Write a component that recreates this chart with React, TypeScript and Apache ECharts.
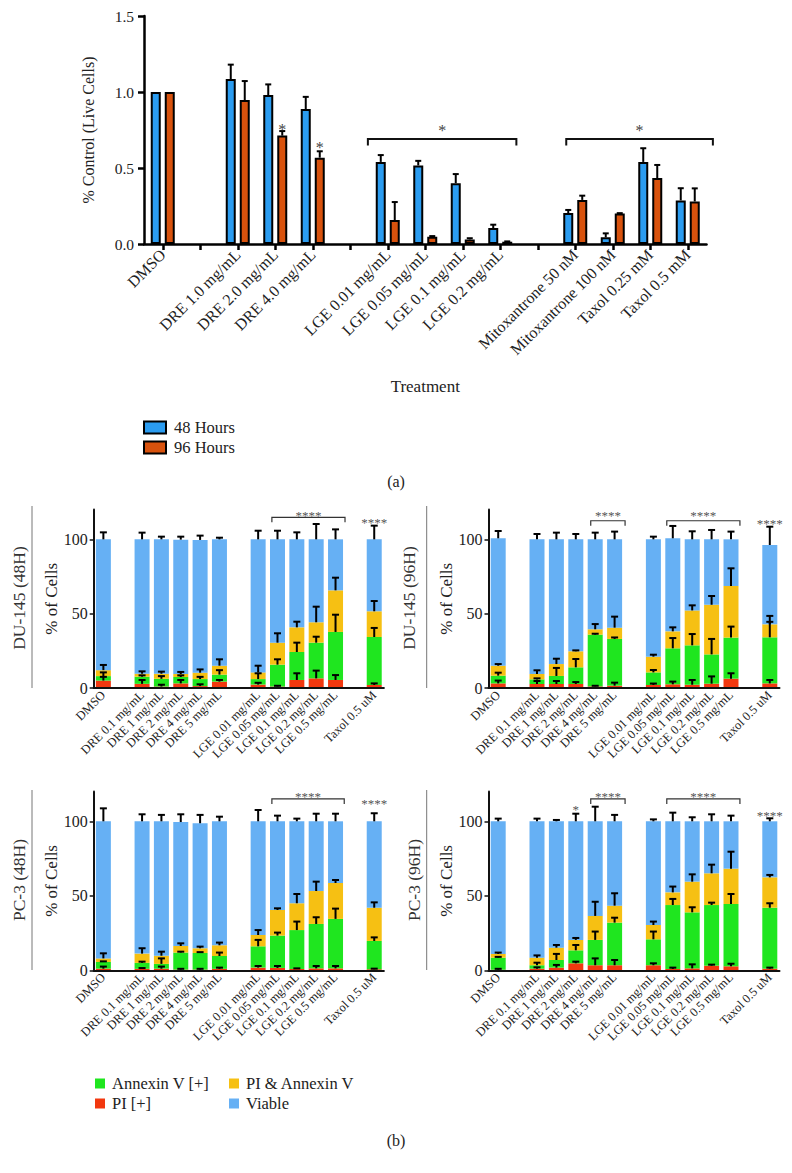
import React, { useEffect, useRef } from 'react';
import * as echarts from 'echarts';

const SERIF = 'Liberation Serif';

// ---------------- Panel (a) ----------------
const CATS_A = ['DMSO', '', 'DRE 1.0 mg/mL', 'DRE 2.0 mg/mL', 'DRE 4.0 mg/mL', '', 'LGE 0.01 mg/mL', 'LGE 0.05 mg/mL', 'LGE 0.1 mg/mL', 'LGE 0.2 mg/mL', '', 'Mitoxantrone 50 nM', 'Mitoxantrone 100 nM', 'Taxol 0.25 mM', 'Taxol 0.5 mM'];
const H48 = [1.0, null, 1.085, 0.98, 0.888, null, 0.54, 0.517, 0.4, 0.105, null, 0.204, 0.044, 0.54, 0.287];
const H48_ERR = [0, null, 0.095, 0.07, 0.08, null, 0.045, 0.03, 0.06, 0.022, null, 0.02, 0.026, 0.09, 0.08];
const H96 = [1.0, null, 0.947, 0.713, 0.568, null, 0.158, 0.048, 0.03, 0.015, null, 0.29, 0.2, 0.434, 0.28];
const H96_ERR = [0, null, 0.125, 0.03, 0.042, null, 0.118, 0.004, 0.008, 0.002, null, 0.028, 0.003, 0.086, 0.086];
// [from category, to category, line y, star y]
const A_BRACKETS = [[5.47, 9.43, 0.69, 0.77], [10.76, 14.67, 0.69, 0.77]];
// [category, series (0 = 48 h, 1 = 96 h), y]
const A_STARS = [[3, 1, 0.778], [4, 1, 0.662]];

// ---------------- Panel (b) ----------------
const CATS_B = ['DMSO', '', 'DRE 0.1 mg/mL', 'DRE 1 mg/mL', 'DRE 2 mg/mL', 'DRE 4 mg/mL', 'DRE 5 mg/mL', '', 'LGE 0.01 mg/mL', 'LGE 0.05 mg/mL', 'LGE 0.1 mg/mL', 'LGE 0.2 mg/mL', 'LGE 0.5 mg/mL', '', 'Taxol 0.5 uM'];
const B_TICKS = [0, 50, 100];
const LAYER_NAMES = ['PI [+]', 'Annexin V [+]', 'PI & Annexin V', 'Viable'];

// DU-145 (48H)
const DU48_PI = [5, null, 2.8, 1, 3.1, 1.3, 4.3, null, 2.3, 1, 5.4, 6.5, 5.4, null, 2];
const DU48_ANX = [3, null, 4.8, 5.2, 4.3, 4.7, 4.7, null, 3.7, 14.7, 18.8, 24, 32.3, null, 32.3];
const DU48_BOTH = [4, null, 2, 3.4, 2, 4.3, 6, null, 4.5, 14.8, 16.6, 13.7, 28, null, 17.3];
const DU48_VIA = [88, null, 90.4, 90.4, 90.4, 89.3, 85, null, 89.5, 69.5, 59.2, 55.8, 34.3, null, 48.4];
const DU48_PI_E = [2.5, null, 2.6, 1.2, 2.3, 1.2, 1.1, null, 1.2, 0.5, 4.5, 5.2, 3.3, null, 1.1];
const DU48_ANX_E = [2.5, null, 0.9, 1.8, 1.1, 1.5, 3, null, 3.9, 3.6, 6.3, 4, 11.6, null, 6.1];
const DU48_BOTH_E = [3.5, null, 1.6, 1.4, 1.4, 2.2, 4.3, null, 4.5, 6.3, 3.8, 10.5, 8.5, null, 6.9];
const DU48_VIA_E = [4.7, null, 4.5, 1.8, 2, 2.9, 1.1, null, 5.8, 5.8, 4.7, 10.3, 6.7, null, 9.2];
const DU48_BRACKETS = [[8.71, 12.49, 114.8, 118.4]];
const DU48_STARS = [[14, 113.6, '****']];

// DU-145 (96H)
const DU96_PI = [3.1, null, 2.7, 2.7, 2.7, 1.1, 1.6, null, 2, 2.5, 2.2, 2.9, 6.3, null, 3.1];
const DU96_ANX = [5.2, null, 3.1, 5.4, 11.2, 34.8, 31.4, null, 8.5, 24.2, 26.5, 19.7, 27.6, null, 31];
const DU96_BOTH = [6.7, null, 3.6, 8, 10.8, 3.6, 7.6, null, 10.6, 11.4, 23.5, 33.4, 34.7, null, 8.7];
const DU96_VIA = [85.7, null, 90.6, 83.9, 75.3, 60.5, 59.4, null, 78.9, 62.6, 47.8, 44, 31.4, null, 53.4];
const DU96_PI_E = [1.9, null, 2, 2, 1.3, 0.4, 2, null, 1, 1.8, 3.2, 4.9, 3.6, null, 2.3];
const DU96_ANX_E = [2, null, 0.7, 5.4, 5.6, 0.6, 1, null, 1.6, 6.9, 7.6, 10.4, 7.4, null, 10.4];
const DU96_BOTH_E = [1.1, null, 2.5, 3.6, 0.6, 3.5, 7.4, null, 1.3, 2.7, 3.4, 5.9, 11.9, null, 5.7];
const DU96_VIA_E = [4.9, null, 3.6, 4.5, 3.6, 4.5, 5.2, null, 1.8, 8.3, 5.4, 6.3, 5.2, null, 12.3];
const DU96_BRACKETS = [[4.77, 6.54, 112.5, 118.2], [8.69, 12.46, 112.5, 118.2]];
const DU96_STARS = [[14, 113, '****']];

// PC-3 (48H)
const PC48_PI = [1.1, null, 1, 1.1, 0.5, 0.5, 1, null, 1.8, 1.6, 0.9, 1.3, 1.3, null, 0.7];
const PC48_ANX = [4.5, null, 4, 3.2, 11.4, 11.1, 8.6, null, 14.3, 21.7, 26.1, 29.8, 33.2, null, 19];
const PC48_BOTH = [2.4, null, 6.2, 5.5, 4.4, 3.2, 7.2, null, 7.6, 17.2, 18, 22.1, 24.1, null, 22.3];
const PC48_VIA = [92, null, 88.8, 90.2, 83.2, 83.9, 83.2, null, 76.3, 59.5, 55, 46.8, 41.4, null, 58];
const PC48_PI_E = [1.4, null, 0.5, 1.4, 0.5, 0.5, 0.8, null, 1.1, 1.3, 0.4, 1.6, 1.6, null, 0.4];
const PC48_ANX_E = [0.4, null, 0.8, 3.7, 0.6, 0.6, 2.3, null, 4.3, 2, 5.7, 4.5, 6.9, null, 2.4];
const PC48_BOTH_E = [3.4, null, 3.6, 2.7, 1.8, 1.1, 1.8, null, 3.3, 1.1, 6.2, 6.3, 2, null, 3.6];
const PC48_VIA_E = [8.7, null, 4.7, 4.3, 5.2, 5.6, 3.1, null, 7.6, 3.8, 1.8, 5.1, 5.1, null, 5.4];
const PC48_BRACKETS = [[8.71, 12.45, 115, 118.5]];
const PC48_STARS = [[14, 113.8, '****']];

// PC-3 (96H)
const PC96_PI = [0.4, null, 1.1, 1.8, 4.7, 3.4, 3.4, null, 3.4, 0.9, 1.3, 3.1, 2.7, null, 1.1];
const PC96_ANX = [8.1, null, 2.3, 5.1, 8.7, 17, 28.6, null, 17.4, 42.9, 37.6, 40.7, 41.8, null, 40.9];
const PC96_BOTH = [2.5, null, 5.1, 8.3, 7, 16.1, 11.4, null, 9.6, 8.5, 20.6, 21.3, 23.7, null, 20.4];
const PC96_VIA = [89, null, 91.5, 84.8, 79.6, 63.5, 56.6, null, 69.6, 47.7, 40.5, 34.9, 31.8, null, 37.6];
const PC96_PI_E = [0.6, null, 0.9, 1.8, 1.1, 4.6, 3.5, null, 1.3, 0.9, 2.7, 0.7, 1.7, null, 0.7];
const PC96_ANX_E = [0.5, null, 1.7, 4.1, 3.6, 5.6, 3.3, null, 5.2, 4.1, 3.4, 1.6, 6.7, null, 3];
const PC96_BOTH_E = [0.9, null, 1.5, 1.8, 1.3, 9.5, 8.3, null, 2.3, 3.9, 4.9, 5.8, 11.4, null, 1.6];
const PC96_VIA_E = [1.8, null, 1.8, 0.9, 5.1, 9.8, 4.3, null, 1.3, 5.8, 2.7, 4.7, 3.8, null, 2];
const PC96_BRACKETS = [[4.77, 6.54, 115, 118.5], [8.69, 12.46, 115, 118.5]];
const PC96_STARS = [[14, 106.4, '****'], [4, 109.8, '*']];

// ---------------- Layout & style ----------------
const COLORS_A = ['#2b9cf0', '#d8520d'];
const LAYER_COLORS = ['#f2380f', '#1fe61f', '#f6c013', '#66b0f4'];
const GRID_A = { left: 144, top: 16, width: 562.5, height: 228 };
const GRIDS_B = [
  { left: 93.7, top: 509.6, width: 290.2, height: 178.4 },
  { left: 488.5, top: 509.6, width: 291, height: 178.4 },
  { left: 93.7, top: 791.5, width: 290.2, height: 178.8 },
  { left: 488.5, top: 791.5, width: 291, height: 178.8 },
];
const PANELS = [
  { label: 'DU-145 (48H)', lx: 19, ly: 598, line: [32, 506, 688], layers: [DU48_PI, DU48_ANX, DU48_BOTH, DU48_VIA], errs: [DU48_PI_E, DU48_ANX_E, DU48_BOTH_E, DU48_VIA_E], brackets: DU48_BRACKETS, stars: DU48_STARS },
  { label: 'DU-145 (96H)', lx: 409, ly: 598, line: [426.7, 506, 688], layers: [DU96_PI, DU96_ANX, DU96_BOTH, DU96_VIA], errs: [DU96_PI_E, DU96_ANX_E, DU96_BOTH_E, DU96_VIA_E], brackets: DU96_BRACKETS, stars: DU96_STARS },
  { label: 'PC-3 (48H)', lx: 19, ly: 880, line: [32, 790, 970], layers: [PC48_PI, PC48_ANX, PC48_BOTH, PC48_VIA], errs: [PC48_PI_E, PC48_ANX_E, PC48_BOTH_E, PC48_VIA_E], brackets: PC48_BRACKETS, stars: PC48_STARS },
  { label: 'PC-3 (96H)', lx: 414, ly: 880, line: [426.7, 790, 970], layers: [PC96_PI, PC96_ANX, PC96_BOTH, PC96_VIA], errs: [PC96_PI_E, PC96_ANX_E, PC96_BOTH_E, PC96_VIA_E], brackets: PC96_BRACKETS, stars: PC96_STARS },
];

const BAR_A_W = 10;
const BAR_A_GAP = 4;

function fracX(api: any, v: number) {
  const i = Math.floor(v);
  const band = api.size([1, 0])[0];
  return api.coord([i, 0])[0] + (v - i) * band;
}

function errorSeries(axis: number, data: number[][], offset: number, cap: number, lw: number) {
  return {
    type: 'custom',
    xAxisIndex: axis,
    yAxisIndex: axis,
    z: 6,
    silent: true,
    data,
    encode: { x: 0, y: [1, 2] },
    renderItem: (params: any, api: any) => {
      const c = api.value(0);
      const base = api.coord([c, api.value(1)]);
      const tip = api.coord([c, api.value(2)]);
      const x = base[0] + offset;
      const st = { stroke: '#000', lineWidth: lw };
      return {
        type: 'group',
        children: [
          { type: 'line', shape: { x1: x, y1: base[1], x2: x, y2: tip[1] }, style: st },
          { type: 'line', shape: { x1: x - cap / 2, y1: tip[1], x2: x + cap / 2, y2: tip[1] }, style: st },
        ],
      };
    },
  };
}

function bracketSeries(axis: number, brackets: number[][], label: string, opt: any) {
  return {
    type: 'custom',
    xAxisIndex: axis,
    yAxisIndex: axis,
    z: 6,
    silent: true,
    data: brackets.map((b) => [Math.floor(b[0]), b[2]]),
    encode: { x: 0, y: 1 },
    renderItem: (params: any, api: any) => {
      const b = brackets[params.dataIndex];
      const x1 = fracX(api, b[0]);
      const x2 = fracX(api, b[1]);
      const y = api.coord([0, b[2]])[1];
      const ys = api.coord([0, b[3]])[1];
      return {
        type: 'group',
        children: [
          {
            type: 'polyline',
            shape: { points: [[x1, y + opt.drop], [x1, y], [x2, y], [x2, y + opt.drop]] },
            style: { stroke: opt.color, lineWidth: opt.lw, fill: null },
          },
          {
            type: 'text',
            x: (x1 + x2) / 2,
            y: ys + opt.font * 0.25,
            style: { text: label, fontSize: opt.font, fontFamily: SERIF, fill: opt.starColor, align: 'center', verticalAlign: 'middle' },
          },
        ],
      };
    },
  };
}

function starSeries(axis: number, stars: any[], getOffset: (s: any) => number, getY: (s: any) => number, getText: (s: any) => string, font: number, color: string) {
  return {
    type: 'custom',
    xAxisIndex: axis,
    yAxisIndex: axis,
    z: 6,
    silent: true,
    data: stars.map((s) => [s[0], getY(s)]),
    encode: { x: 0, y: 1 },
    renderItem: (params: any, api: any) => {
      const s = stars[params.dataIndex];
      const p = api.coord([api.value(0), api.value(1)]);
      return {
        type: 'text',
        x: p[0] + getOffset(s),
        y: p[1] + font * 0.25,
        style: { text: getText(s), fontSize: font, fontFamily: SERIF, fill: color, align: 'center', verticalAlign: 'middle' },
      };
    },
  };
}

function buildOption() {
  const grids: any[] = [GRID_A, ...GRIDS_B].map((g) => ({ ...g, outerBoundsMode: 'none', containLabel: false }));
  const xAxes: any[] = [];
  const yAxes: any[] = [];
  const series: any[] = [];

  // Panel (a)
  xAxes.push({
    type: 'category',
    gridIndex: 0,
    data: CATS_A,
    z: 10,
    axisLine: { lineStyle: { color: '#000', width: 2.5 } },
    axisTick: { show: true, alignWithLabel: true, interval: 0, length: 6, lineStyle: { color: '#000', width: 2.5 } },
    axisLabel: { interval: 0, rotate: 45, fontSize: 16, fontFamily: SERIF, color: '#222', margin: 8 },
    name: 'Treatment',
    nameLocation: 'middle',
    nameGap: 134,
    nameTextStyle: { fontSize: 17, fontFamily: SERIF, color: '#222' },
  });
  yAxes.push({
    type: 'value',
    gridIndex: 0,
    min: 0,
    max: 1.5,
    interval: 0.5,
    axisLine: { show: true, lineStyle: { color: '#000', width: 2.5 } },
    axisTick: { show: true, length: 6, lineStyle: { color: '#000', width: 2.5 } },
    splitLine: { show: false },
    axisLabel: { formatter: (v: number) => v.toFixed(1), fontSize: 15.5, fontFamily: SERIF, color: '#222', margin: 10 },
    name: '% Control (Live Cells)',
    nameLocation: 'middle',
    nameGap: 48,
    nameTextStyle: { fontSize: 16, fontFamily: SERIF, color: '#222' },
  });
  const aVals = [H48, H96];
  const aErrs = [H48_ERR, H96_ERR];
  const aNames = ['48 Hours', '96 Hours'];
  const half = (BAR_A_W + BAR_A_GAP) / 2;
  aVals.forEach((vals, k) => {
    series.push({
      name: aNames[k],
      type: 'bar',
      xAxisIndex: 0,
      yAxisIndex: 0,
      data: vals,
      barWidth: BAR_A_W,
      barGap: (BAR_A_GAP / BAR_A_W) * 100 + '%',
      itemStyle: { color: COLORS_A[k], borderColor: '#000', borderWidth: 2 },
      z: 2,
    });
  });
  aVals.forEach((vals, k) => {
    const data: number[][] = [];
    vals.forEach((v, j) => {
      const e = aErrs[k][j];
      if (v != null && e != null && e > 0) data.push([j, v, v + e]);
    });
    series.push(errorSeries(0, data, k === 0 ? -half : half, 6, 2));
  });
  series.push(bracketSeries(0, A_BRACKETS, '*', { drop: 6.5, lw: 2, color: '#111', font: 16, starColor: '#444' }));
  series.push(starSeries(0, A_STARS, (s) => (s[1] === 0 ? -half : half), (s) => s[2], () => '*', 16, '#444'));

  // Panel (b)
  PANELS.forEach((p, i) => {
    const ai = i + 1;
    xAxes.push({
      type: 'category',
      gridIndex: ai,
      data: CATS_B,
      z: 10,
      axisLine: { lineStyle: { color: '#111', width: 2 } },
      axisTick: { show: false },
      axisLabel: { interval: 0, rotate: 45, fontSize: 12.5, fontFamily: SERIF, color: '#222', margin: 5 },
    });
    yAxes.push({
      type: 'value',
      gridIndex: ai,
      min: 0,
      max: 120,
      interval: 50,
      axisLine: { show: true, lineStyle: { color: '#111', width: 2 } },
      axisTick: { show: true, length: 4, customValues: B_TICKS, lineStyle: { color: '#111', width: 1.5 } },
      splitLine: { show: false },
      axisLabel: { customValues: B_TICKS, fontSize: 16, fontFamily: SERIF, color: '#222', margin: 6 },
      name: '% of Cells',
      nameLocation: 'middle',
      nameGap: 32,
      nameTextStyle: { fontSize: 17, fontFamily: SERIF, color: '#222' },
    });
    p.layers.forEach((vals, k) => {
      series.push({
        name: LAYER_NAMES[k],
        type: 'bar',
        xAxisIndex: ai,
        yAxisIndex: ai,
        stack: 'cells' + i,
        data: vals,
        barWidth: 15,
        itemStyle: { color: LAYER_COLORS[k] },
        z: 2,
      });
    });
    const eData: number[][] = [];
    const cum = CATS_B.map(() => 0);
    p.layers.forEach((vals, k) => {
      vals.forEach((v, j) => {
        if (v == null) return;
        cum[j] += v;
        const e = p.errs[k][j];
        if (e != null && e > 0) eData.push([j, cum[j], cum[j] + e]);
      });
    });
    series.push(errorSeries(ai, eData, 0, 7, 2));
    series.push(bracketSeries(ai, p.brackets, '****', { drop: 5, lw: 1.2, color: '#333', font: 13, starColor: '#555' }));
    series.push(starSeries(ai, p.stars, () => 0, (s) => s[1], (s) => s[2], 13, '#555'));
  });

  const graphic: any[] = [
    { type: 'text', x: 396, y: 481, style: { text: '(a)', fontSize: 16, fontFamily: SERIF, fill: '#222', align: 'center', verticalAlign: 'middle' } },
    { type: 'text', x: 396, y: 1140, style: { text: '(b)', fontSize: 16, fontFamily: SERIF, fill: '#222', align: 'center', verticalAlign: 'middle' } },
  ];
  PANELS.forEach((p) => {
    graphic.push({ type: 'line', shape: { x1: p.line[0], y1: p.line[1], x2: p.line[0], y2: p.line[2] }, style: { stroke: '#777', lineWidth: 1 } });
    graphic.push({ type: 'text', x: p.lx, y: p.ly, rotation: Math.PI / 2, style: { text: p.label, fontSize: 17.5, fontFamily: SERIF, fill: '#333', align: 'center', verticalAlign: 'middle' } });
  });

  const legendText = { fontSize: 16.5, fontFamily: SERIF, color: '#222', lineHeight: 17 };
  return {
    animation: false,
    backgroundColor: '#fff',
    textStyle: { fontFamily: SERIF },
    grid: grids,
    xAxis: xAxes,
    yAxis: yAxes,
    series,
    graphic,
    legend: [
      { data: aNames, orient: 'vertical', left: 143, top: 419, padding: 0, icon: 'rect', itemWidth: 22, itemHeight: 12, itemGap: 3, selectedMode: false, textStyle: { ...legendText, padding: [0, 0, 0, 3] } },
      { data: [LAYER_NAMES[1], LAYER_NAMES[0]], orient: 'vertical', left: 95, top: 1075, padding: 0, icon: 'rect', itemWidth: 10, itemHeight: 10, itemGap: 3, selectedMode: false, textStyle: { ...legendText, padding: [0, 0, 0, 2] } },
      { data: [LAYER_NAMES[2], LAYER_NAMES[3]], orient: 'vertical', left: 229, top: 1075, padding: 0, icon: 'rect', itemWidth: 10, itemHeight: 10, itemGap: 3, selectedMode: false, textStyle: { ...legendText, padding: [0, 0, 0, 2] } },
    ],
  };
}

export default function App() {
  const ref = useRef<HTMLDivElement>(null);
  useEffect(() => {
    const chart = echarts.init(ref.current as HTMLDivElement, undefined, { renderer: 'svg' });
    chart.setOption(buildOption() as any);
    return () => chart.dispose();
  }, []);
  return <div ref={ref} style={{ position: 'absolute', left: 0, top: 0, width: 792, height: 1173, background: '#fff' }} />;
}
